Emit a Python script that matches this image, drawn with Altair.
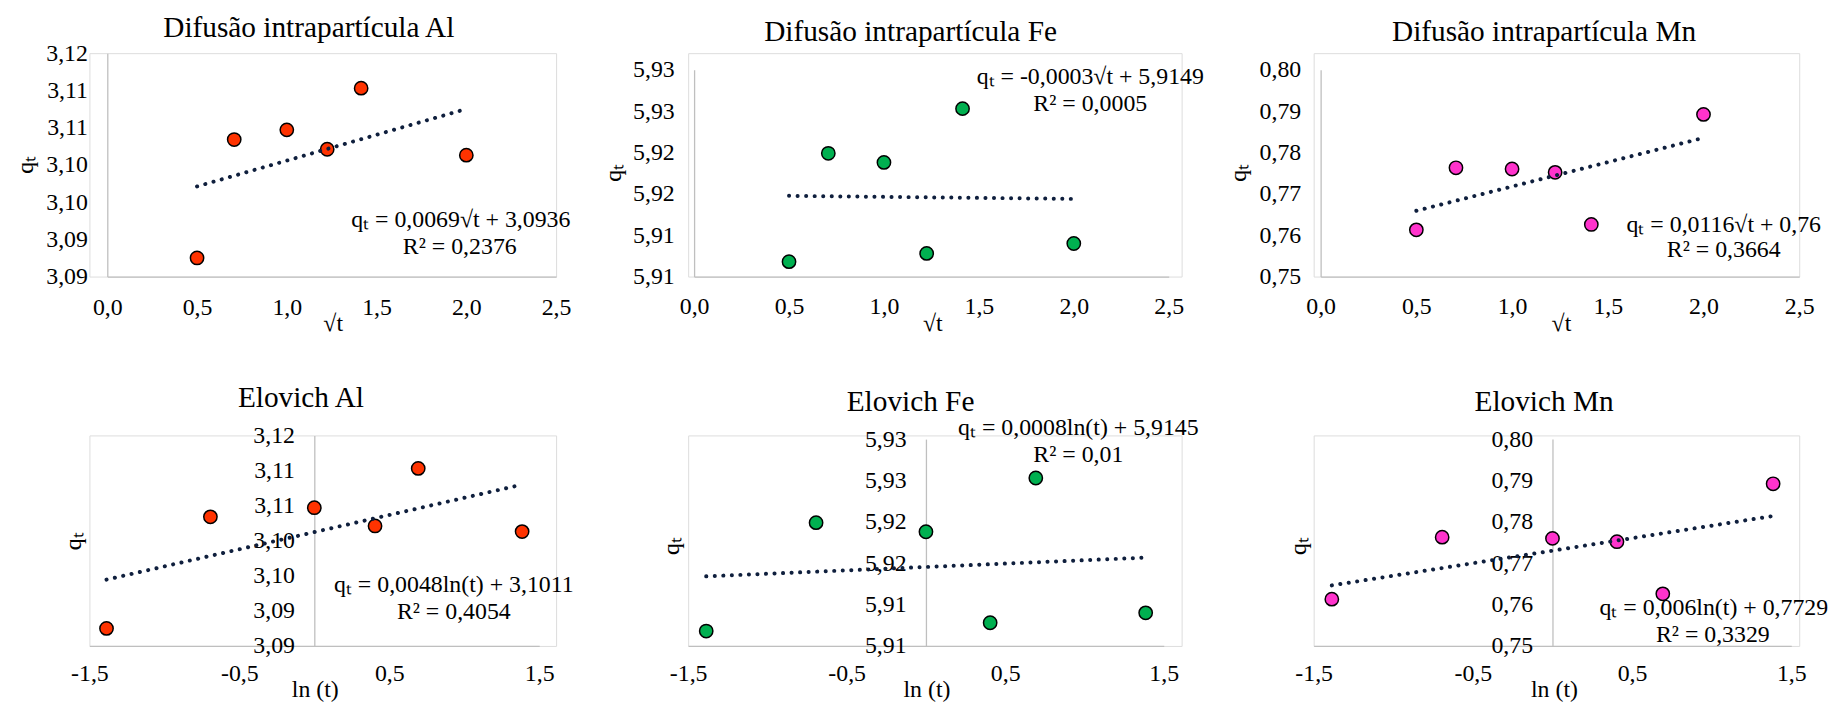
import json
import altair as alt
import pandas as pd

# ---------------- data ----------------
sqrt_t = [0.5, 0.707, 1.0, 1.225, 1.414, 2.0]
ln_t = [-1.386, -0.693, 0.0, 0.405, 0.693, 1.386]

qt_al = [3.0925, 3.1084, 3.1097, 3.1071, 3.1153, 3.1063]
qt_fe = [5.9068, 5.9199, 5.9188, 5.9078, 5.9253, 5.9090]
qt_mn = [0.7613, 0.7763, 0.7760, 0.7752, 0.7626, 0.7892]

titles_diff = ["Difusão intrapartícula Al", "Difusão intrapartícula Fe", "Difusão intrapartícula Mn"]
titles_elov = ["Elovich Al", "Elovich Fe", "Elovich Mn"]
eq_diff = ["qₜ = 0,0069√t + 3,0936", "qₜ = -0,0003√t + 5,9149", "qₜ = 0,0116√t + 0,76"]
r2_diff = ["R² = 0,2376", "R² = 0,0005", "R² = 0,3664"]
eq_elov = ["qₜ = 0,0048ln(t) + 3,1011", "qₜ = 0,0008ln(t) + 5,9145", "qₜ = 0,006ln(t) + 0,7729"]
r2_elov = ["R² = 0,4054", "R² = 0,01", "R² = 0,3329"]

y_ticks_al = [3.09, 3.095, 3.10, 3.105, 3.11, 3.115, 3.12]
y_labels_al = ["3,09", "3,09", "3,10", "3,10", "3,11", "3,11", "3,12"]
y_ticks_fe = [5.905, 5.91, 5.915, 5.92, 5.925, 5.93]
y_labels_fe = ["5,91", "5,91", "5,92", "5,92", "5,93", "5,93"]
y_ticks_mn = [0.75, 0.76, 0.77, 0.78, 0.79, 0.80]
y_labels_mn = ["0,75", "0,76", "0,77", "0,78", "0,79", "0,80"]
x_ticks_sqrt = [0, 0.5, 1, 1.5, 2, 2.5]
x_labels_sqrt = ["0,0", "0,5", "1,0", "1,5", "2,0", "2,5"]
x_ticks_ln = [-1.5, -0.5, 0.5, 1.5]
x_labels_ln = ["-1,5", "-0,5", "0,5", "1,5"]

# ---------------- styles ----------------
FONT = "Liberation Serif"
COL_AL, COL_FE, COL_MN = "#FF3300", "#00B050", "#FF33CC"
AXIS_GRAY = "#BFBFBF"
TREND = "#0F1F3D"
TICK_FS = 24
TITLE_FS = 29.5

COL_W = [470, 497, 489]
ROW_H = [225, 212]


def lab_expr(ticks, labels):
    return f"{json.dumps(labels)}[indexof({json.dumps(ticks)}, datum.value)]"


def text_layer(s, x, y, size):
    return alt.Chart(alt.Data(values=[{}])).mark_text(
        text=s, x=x, y=y, font=FONT, fontSize=size, align="center",
        baseline="alphabetic", color="black")


def panel(g):
    df = pd.DataFrame({"x": g["xv"], "q": g["yv"]})
    xenc = alt.X(
        "x:Q",
        scale=alt.Scale(domain=g["xdom"], range=g["xrange"], nice=False, zero=False),
        axis=alt.Axis(
            values=g["xticks"], labelExpr=lab_expr(g["xticks"], g["xlabels"]),
            title=g["xtitle"], titleX=g["xtitle_x"], titleY=g["xtitle_y"],
            titleBaseline="alphabetic", titleAlign="center",
            titleFont=FONT, titleFontSize=TICK_FS, titleFontWeight="normal", titleColor="black",
            labelFont=FONT, labelFontSize=TICK_FS, labelColor="black",
            labelPadding=g["xlabpad"], labelBaseline="alphabetic", labelFlush=False,
            labelOverlap=False, ticks=False, grid=False,
            domainColor=AXIS_GRAY, domainWidth=1.3),
    )
    yenc = alt.Y(
        "q:Q",
        scale=alt.Scale(domain=g["ydom"], range=g["yrange"], nice=False, zero=False),
        axis=alt.Axis(
            values=g["yticks"], labelExpr=lab_expr(g["yticks"], g["ylabels"]),
            title="qₜ", titleAngle=270, titleX=g["ytitle_x"], titleY=g["ytitle_y"],
            titleBaseline="middle", titleAlign="center",
            titleFont=FONT, titleFontSize=TICK_FS, titleFontWeight="normal", titleColor="black",
            labelFont=FONT, labelFontSize=TICK_FS, labelColor="black",
            labelPadding=20, labelFlush=False, labelOverlap=False,
            ticks=False, grid=False, offset=g["yoffset"],
            domainColor=AXIS_GRAY, domainWidth=1.3),
    )
    base = alt.Chart(df).encode(x=xenc, y=yenc)
    pts = base.mark_circle(size=180, color=g["color"], opacity=1,
                           stroke="black", strokeWidth=1.5)
    trend = base.transform_regression("x", "q").mark_line(
        color=TREND, strokeWidth=4, strokeDash=[0.1, 8.5], strokeCap="round")
    layers = [pts, trend,
              text_layer(g["title"], g["title_pos"][0], g["title_pos"][1], TITLE_FS),
              text_layer(g["eq"], g["eq_pos"][0], g["eq_pos"][1], TICK_FS),
              text_layer(g["r2"], g["r2_pos"][0], g["r2_pos"][1], TICK_FS)]
    return alt.layer(*layers).properties(width=g["w"], height=g["h"])


geoms = [
    dict(xv=sqrt_t, yv=qt_al, color=COL_AL, xdom=[0, 2.5], xrange=[18, 470],
         xticks=x_ticks_sqrt, xlabels=x_labels_sqrt, xtitle="√t", xtitle_x=245, xtitle_y=54, xlabpad=38,
         ydom=[3.09, 3.12], yrange=[225, 0], yticks=y_ticks_al, ylabels=y_labels_al,
         yoffset=-18, ytitle_x=-82, ytitle_y=112, w=COL_W[0], h=ROW_H[0],
         title=titles_diff[0], title_pos=(221, -16),
         eq=eq_diff[0], eq_pos=(374, 175), r2=r2_diff[0], r2_pos=(373, 202)),
    dict(xv=sqrt_t, yv=qt_fe, color=COL_FE, xdom=[0, 2.5], xrange=[6, 484],
         xticks=x_ticks_sqrt, xlabels=x_labels_sqrt, xtitle="√t", xtitle_x=246, xtitle_y=54, xlabpad=37,
         ydom=[5.905, 5.93], yrange=[225, 16.7], yticks=y_ticks_fe, ylabels=y_labels_fe,
         yoffset=-6, ytitle_x=-81, ytitle_y=120, w=COL_W[1], h=ROW_H[0],
         title=titles_diff[1], title_pos=(224, -12),
         eq=eq_diff[1], eq_pos=(405, 31), r2=r2_diff[1], r2_pos=(405, 58)),
    dict(xv=sqrt_t, yv=qt_mn, color=COL_MN, xdom=[0, 2.5], xrange=[7, 489],
         xticks=x_ticks_sqrt, xlabels=x_labels_sqrt, xtitle="√t", xtitle_x=249, xtitle_y=54, xlabpad=37,
         ydom=[0.75, 0.80], yrange=[225, 16.7], yticks=y_ticks_mn, ylabels=y_labels_mn,
         yoffset=-7, ytitle_x=-83, ytitle_y=120, w=COL_W[2], h=ROW_H[0],
         title=titles_diff[2], title_pos=(232, -12),
         eq=eq_diff[2], eq_pos=(413, 180), r2=r2_diff[2], r2_pos=(413, 205)),
    dict(xv=ln_t, yv=qt_al, color=COL_AL, xdom=[-1.5, 1.5], xrange=[0, 453],
         xticks=x_ticks_ln, xlabels=x_labels_ln, xtitle="ln (t)", xtitle_x=227, xtitle_y=51, xlabpad=35,
         ydom=[3.09, 3.12], yrange=[212, 0], yticks=y_ticks_al, ylabels=y_labels_al,
         yoffset=-226.5, ytitle_x=-242.5, ytitle_y=106, w=COL_W[0], h=ROW_H[1],
         title=titles_elov[0], title_pos=(213, -29),
         eq=eq_elov[0], eq_pos=(367, 158), r2=r2_elov[0], r2_pos=(367, 185)),
    dict(xv=ln_t, yv=qt_fe, color=COL_FE, xdom=[-1.5, 1.5], xrange=[0, 479],
         xticks=x_ticks_ln, xlabels=x_labels_ln, xtitle="ln (t)", xtitle_x=240, xtitle_y=51, xlabpad=35,
         ydom=[5.905, 5.93], yrange=[212, 3.7], yticks=y_ticks_fe, ylabels=y_labels_fe,
         yoffset=-239.5, ytitle_x=-256.5, ytitle_y=111, w=COL_W[1], h=ROW_H[1],
         title=titles_elov[1], title_pos=(224, -25),
         eq=eq_elov[1], eq_pos=(393, 0), r2=r2_elov[1], r2_pos=(393, 27)),
    dict(xv=ln_t, yv=qt_mn, color=COL_MN, xdom=[-1.5, 1.5], xrange=[0, 481],
         xticks=x_ticks_ln, xlabels=x_labels_ln, xtitle="ln (t)", xtitle_x=242, xtitle_y=51, xlabpad=35,
         ydom=[0.75, 0.80], yrange=[212, 3.7], yticks=y_ticks_mn, ylabels=y_labels_mn,
         yoffset=-240.5, ytitle_x=-255.5, ytitle_y=111, w=COL_W[2], h=ROW_H[1],
         title=titles_elov[2], title_pos=(232, -25),
         eq=eq_elov[2], eq_pos=(403, 181), r2=r2_elov[2], r2_pos=(402, 208)),
]

panels = [panel(g) for g in geoms]

chart = alt.concat(
    *panels, columns=3, spacing={"row": 160, "column": 133}, bounds="flush"
).properties(
    padding={"left": 5, "top": 2, "right": 0, "bottom": 0}
).configure_view(stroke=None).configure(font=FONT, background="white")

chart.save("out.html", embed_options={"renderer": "svg", "actions": False})
